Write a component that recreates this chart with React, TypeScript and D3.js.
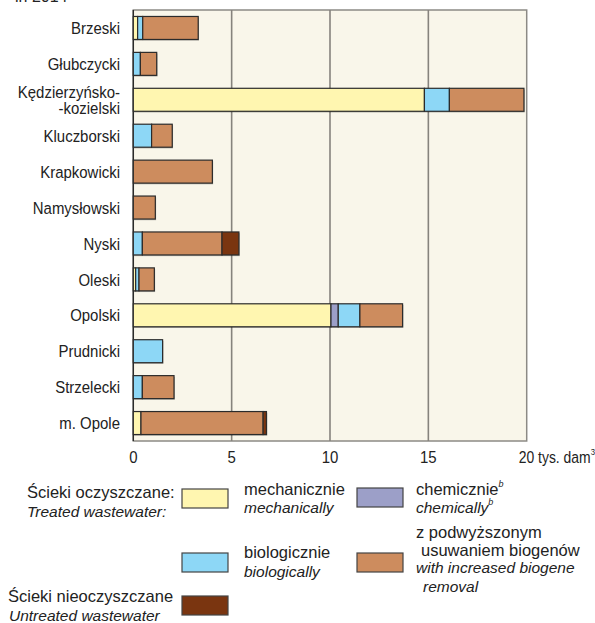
import React from "react";
import * as d3 from "d3";

const categories = [
  "Brzeski",
  "Głubczycki",
  "Kędzierzyńsko-\n-kozielski",
  "Kluczborski",
  "Krapkowicki",
  "Namysłowski",
  "Nyski",
  "Oleski",
  "Opolski",
  "Prudnicki",
  "Strzelecki",
  "m. Opole",
];

const mechanically = [0.22, 0, 14.8, 0, 0, 0, 0, 0.12, 10.05, 0, 0, 0.39];
const chemically = [0, 0, 0, 0, 0, 0, 0, 0, 0.37, 0, 0, 0];
const biologically = [0.26, 0.36, 1.27, 0.93, 0, 0, 0.46, 0.17, 1.1, 1.49, 0.46, 0];
const biogene = [2.82, 0.83, 3.79, 1.05, 4.02, 1.12, 4.05, 0.78, 2.17, 0, 1.61, 6.21];
const untreated = [0, 0, 0, 0, 0, 0, 0.86, 0, 0, 0, 0, 0.17];

const xTicks = [0, 5, 10, 15, 20];
const seriesKeys = ["mech", "chem", "bio", "biog", "untr"];
const seriesColors = ["#fff6b0", "#9c9fc8", "#8dd7f6", "#cd8c5e", "#7a3510"];

const W = 595;
const H = 623;
const FONT = "'Liberation Sans', Arial, Helvetica, sans-serif";
const SX = 0.88;

export default function App() {
  const x = d3.scaleLinear().domain([0, 20]).range([133.3, 526.7]);
  const y = d3
    .scaleBand<string>()
    .domain(categories)
    .range([10, 441])
    .paddingInner(0.36)
    .paddingOuter(0.18);

  const rows = categories.map((c, i) => ({
    cat: c,
    mech: mechanically[i],
    chem: chemically[i],
    bio: biologically[i],
    biog: biogene[i],
    untr: untreated[i],
  }));
  const stack = d3.stack<any>().keys(seriesKeys)(rows);

  const legendText = { fontFamily: FONT, fontSize: 16.5, fill: "#222" } as const;
  const legendItal = { fontFamily: FONT, fontSize: 15.5, fill: "#222", fontStyle: "italic" } as const;

  const swatch = (xx: number, yy: number, color: string) => (
    <rect x={xx} y={yy} width={46} height={19} fill={color} stroke="#444" strokeWidth={1.2} />
  );

  return (
    <svg
      width={W}
      height={H}
      style={{ position: "absolute", left: 0, top: 0, background: "#fff" }}
    >
      <text x={15} y={2} style={{ fontFamily: FONT, fontSize: 16, fill: "#222" }}>
        in 2014
      </text>
      {/* plot background */}
      <rect
        x={x(0)}
        y={10}
        width={x(20) - x(0)}
        height={431}
        fill="#f9f6ea"
        stroke="#8c8a85"
        strokeWidth={1.5}
      />
      {xTicks
        .filter((t) => t > 0 && t < 20)
        .map((t) => (
          <line key={t} x1={x(t)} x2={x(t)} y1={10} y2={441} stroke="#86837d" strokeWidth={1.6} />
        ))}
      <line x1={x(0)} x2={x(0)} y1={10} y2={441} stroke="#2a2a2a" strokeWidth={1.4} />

      {/* bars */}
      {stack.map((s, si) =>
        s.map((d, i) => {
          const w = x(d[1]) - x(d[0]);
          if (w <= 0) return null;
          const yy = y(categories[i])!;
          return (
            <g key={`${si}-${i}`}>
              <rect
                x={x(d[0]) + 0.8}
                y={yy + 1.2}
                width={w}
                height={y.bandwidth()}
                fill="#000"
                opacity={0.28}
              />
              <rect
                x={x(d[0])}
                y={yy}
                width={w}
                height={y.bandwidth()}
                fill={seriesColors[si]}
                stroke="#2b2b2b"
                strokeWidth={1.2}
              />
            </g>
          );
        })
      )}

      {/* category labels */}
      {categories.map((c) => {
        const lines = c.split("\n");
        const cy = y(c)! + y.bandwidth() / 2;
        const lh = 16.5;
        return (
          <g key={c} transform={`translate(120,0) scale(${SX},1)`}>
            <text textAnchor="end" style={{ fontFamily: FONT, fontSize: 17, fill: "#222" }}>
              {lines.map((l, k) => (
                <tspan key={k} x={0} y={cy + 6.2 + (k - (lines.length - 1) / 2) * lh}>
                  {l}
                </tspan>
              ))}
            </text>
          </g>
        );
      })}

      {/* x tick labels */}
      {xTicks.map((t) =>
        t < 20 ? (
          <g key={t} transform={`translate(${x(t)},463) scale(${SX},1)`}>
            <text textAnchor="middle" style={{ fontFamily: FONT, fontSize: 17, fill: "#222" }}>
              {t}
            </text>
          </g>
        ) : (
          <g key={t} transform={`translate(${x(t) - 8},463) scale(0.82,1)`}>
            <text style={{ fontFamily: FONT, fontSize: 17, fill: "#222" }}>
              {t} tys. dam
              <tspan fontSize={9.5} dy={-8}>
                3
              </tspan>
            </text>
          </g>
        )
      )}

      {/* legend */}
      <text x={27} y={498} style={legendText}>Ścieki oczyszczane:</text>
      <text x={27} y={517} style={legendItal}>Treated wastewater:</text>
      {swatch(182, 489, seriesColors[0])}
      <text x={244} y={495} style={legendText}>mechanicznie</text>
      <text x={244} y={513} style={legendItal}>mechanically</text>

      {swatch(182, 553, seriesColors[2])}
      <text x={244} y={558} style={legendText}>biologicznie</text>
      <text x={244} y={577} style={legendItal}>biologically</text>

      <text x={8} y={602} style={legendText}>Ścieki nieoczyszczane</text>
      <text x={9} y={621} style={legendItal}>Untreated wastewater</text>
      {swatch(182, 596, seriesColors[4])}

      {swatch(357, 488, seriesColors[1])}
      <text x={416} y={495} style={legendText}>
        chemicznie
        <tspan fontSize={9} fontStyle="italic" dy={-8}>b</tspan>
      </text>
      <text x={416} y={513} style={legendItal}>
        chemically
        <tspan fontSize={9} dy={-8}>b</tspan>
      </text>

      {swatch(357, 553, seriesColors[3])}
      <text x={416} y={538} style={legendText}>z podwyższonym</text>
      <text x={421} y={556} style={legendText}>usuwaniem biogenów</text>
      <text x={416} y={573} style={legendItal}>with increased biogene</text>
      <text x={423} y={592} style={legendItal}>removal</text>
    </svg>
  );
}
